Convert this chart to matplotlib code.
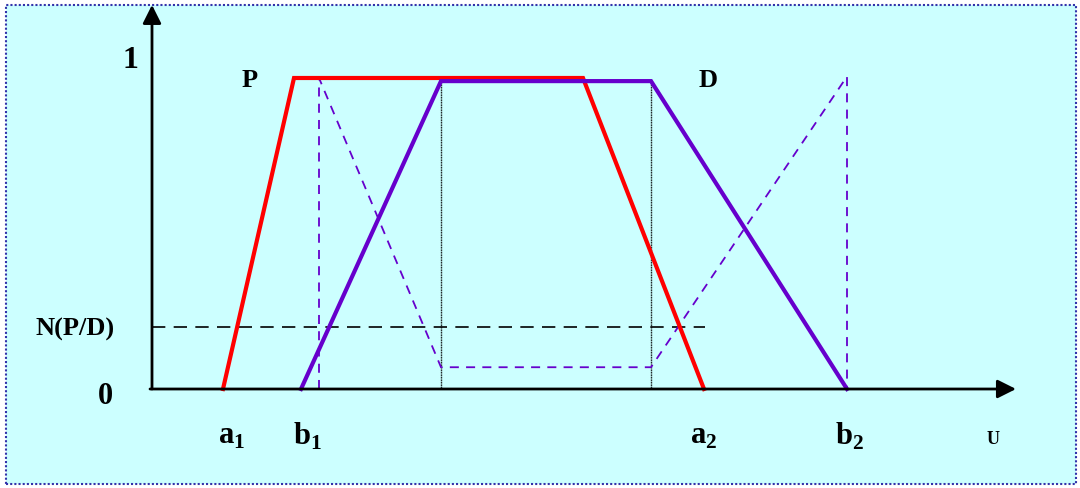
import matplotlib.pyplot as plt
from matplotlib.patches import Rectangle

# x positions in chart units (pixel-like), y = membership grade
p_x = [223, 294, 583, 704]
p_y = [0, 1, 1, 0]
d_x = [301, 441, 651, 847]
d_y = [0, 0.99, 0.99, 0]
notd_x = [319, 319, 441, 651, 847, 847]
notd_y = [0, 1, 0.07, 0.07, 1.005, 0]
n_level = 0.2
n_x = [152, 705]
guide_x = [441, 651]
guide_top = 0.99

x_labels = [(232, r'$\mathbf{a}_\mathbf{1}$'), (307, r'$\mathbf{b}_\mathbf{1}$'),
            (704, r'$\mathbf{a}_\mathbf{2}$'), (850, r'$\mathbf{b}_\mathbf{2}$')]

plt.rcParams['font.family'] = 'Liberation Serif'
plt.rcParams['mathtext.fontset'] = 'custom'
plt.rcParams['mathtext.bf'] = 'Liberation Serif:bold'
plt.rcParams['mathtext.rm'] = 'Liberation Serif:bold'

fig = plt.figure(figsize=(10.8, 4.89), dpi=100)
fig.patch.set_facecolor('white')
ax = fig.add_axes([0, 0, 1, 1])
ax.set_xlim(0, 1080)
ax.set_ylim(-0.3183, 1.254)
ax.axis('off')

bg = '#ccffff'
ax.add_patch(Rectangle((6, -0.3055), 1070, 1.5395, facecolor=bg,
                       edgecolor='#3333aa', lw=1.5, ls=(0, (1, 1)), zorder=0))

# guides
ax.plot(n_x, [n_level, n_level], color='black', lw=1.2, ls=(0, (8, 5)), zorder=2)
for gx in guide_x:
    ax.plot([gx, gx], [0, guide_top], color='black', lw=1.0, ls=(0, (0.7, 0.5)), zorder=2)

# complement of D
ax.plot(notd_x, notd_y, color='#6600cc', lw=1.3, ls=(0, (5, 4)), zorder=3)

# P and D
ax.plot(p_x, p_y, color='#ff0000', lw=3, zorder=4, solid_joinstyle='miter')
ax.plot(d_x, d_y, color='#6600cc', lw=3, zorder=5, solid_joinstyle='miter')

# axes with arrows
ax.annotate('', xy=(152, 1.235), xytext=(152, 0),
            arrowprops=dict(arrowstyle='-|>', mutation_scale=28, lw=2, color='black',
                            shrinkA=0, shrinkB=0), zorder=6)
ax.annotate('', xy=(1016, 0), xytext=(150, 0),
            arrowprops=dict(arrowstyle='-|>', mutation_scale=28, lw=2, color='black',
                            shrinkA=0, shrinkB=0), zorder=6)

txt = dict(fontweight='bold', color='black', ha='center', va='center')
ax.text(130, 1.06, '1', fontsize=23, **txt)
ax.text(105, -0.02, '0', fontsize=22, **txt)
ax.text(75, 0.195, 'N(P/D)', fontsize=19, **txt)
ax.text(250, 0.995, 'P', fontsize=19, **txt)
ax.text(708, 0.995, 'D', fontsize=19, **txt)
for lx, s in x_labels:
    ax.text(lx, -0.15, s, fontsize=22, **txt)
ax.text(993, -0.16, 'U', fontsize=13, **txt)

fig.savefig('out.png', dpi=100)
